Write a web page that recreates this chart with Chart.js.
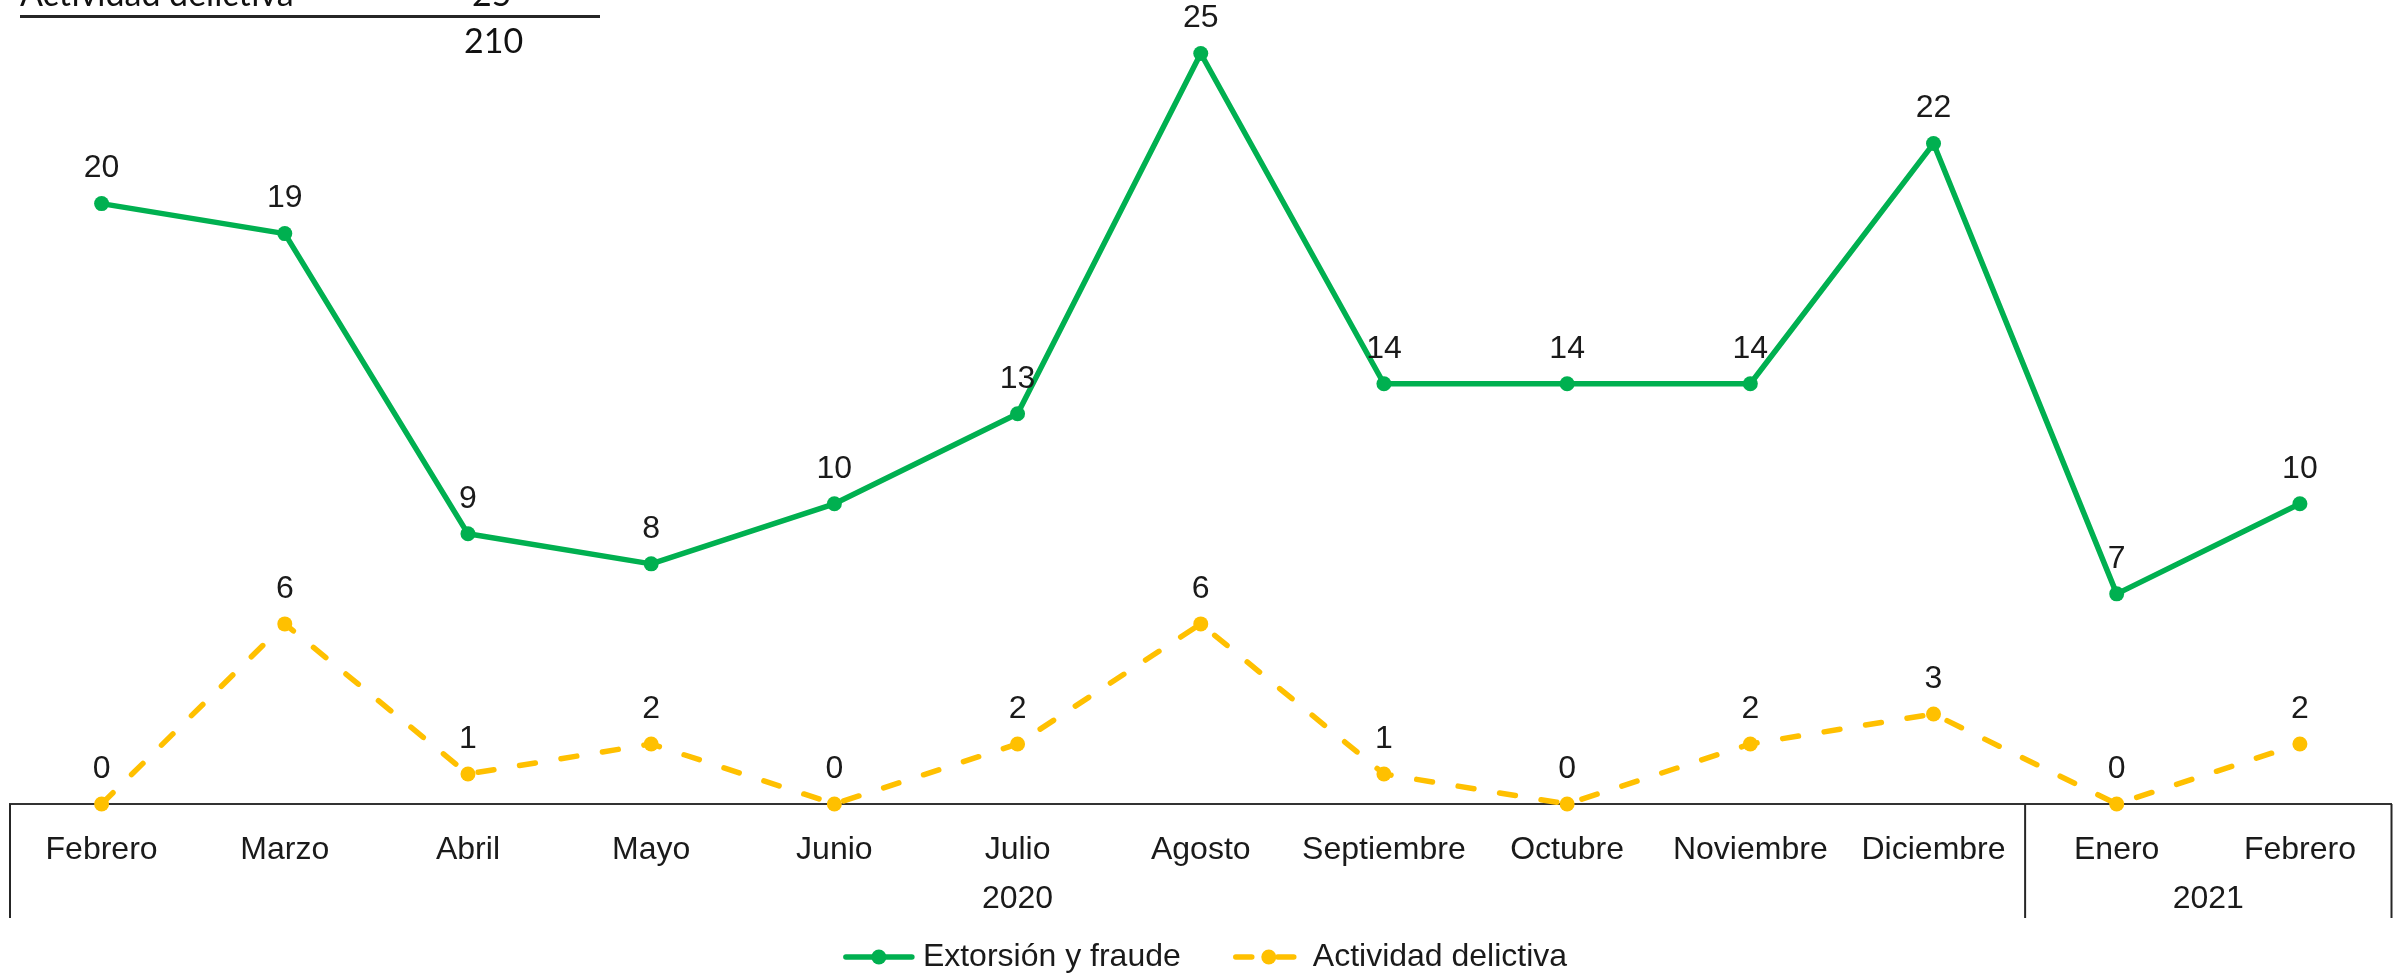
<!DOCTYPE html>
<html lang="es">
<head>
    <meta charset="UTF-8">
    <title>Extorsión y fraude / Actividad delictiva</title>
    <style>
        * {
            margin: 0;
            padding: 0;
            box-sizing: border-box;
        }

        body {
            background-color: #fff;
            width: 2399px;
            height: 974px;
            overflow: hidden;
            position: relative;
        }

        #chart {
            position: absolute;
            left: 0;
            top: 0;
        }

        /* restos de la tabla que queda cortada arriba */
        .tabla {
            position: absolute;
            font-family: Lato, "Open Sans", sans-serif;
            font-size: 34px;
            line-height: 34px;
            color: #111;
            white-space: nowrap;
        }

        .regla {
            position: absolute;
            left: 20px;
            top: 15px;
            width: 580px;
            height: 2.5px;
            background-color: #262626;
        }
    </style>
</head>
<body>
    <canvas id="chart" width="2399" height="974"></canvas>
    <div class="tabla" style="left:20px; top:-24px;">Actividad delictiva</div>
    <div class="tabla" style="left:472px; top:-24px;">25</div>
    <div class="regla"></div>
    <div class="tabla" style="left:464px; top:23px;">210</div>

    <script src="https://cdn.jsdelivr.net/npm/chart.js"></script>
    <script>
const months = ['Febrero', 'Marzo', 'Abril', 'Mayo', 'Junio', 'Julio', 'Agosto', 'Septiembre', 'Octubre', 'Noviembre', 'Diciembre', 'Enero', 'Febrero'];
const extorsion = [20, 19, 9, 8, 10, 13, 25, 14, 14, 14, 22, 7, 10];
const actividad = [0, 6, 1, 2, 0, 2, 6, 1, 0, 2, 3, 0, 2];
const years = ['2020', '2021'];
const yearSpans = [11, 2];

const FONT = '"Liberation Sans", Arial, sans-serif';
const TEXT = '#1a1a1a';

// numeros encima de cada punto
const valueLabels = {
    id: 'valueLabels',
    afterDatasetsDraw(chart) {
        const ctx = chart.ctx;
        ctx.save();
        ctx.font = '32px ' + FONT;
        ctx.fillStyle = TEXT;
        ctx.textAlign = 'center';
        ctx.textBaseline = 'middle';
        chart.data.datasets.forEach((ds, i) => {
            chart.getDatasetMeta(i).data.forEach((pt, j) => {
                ctx.fillText(ds.data[j], pt.x, pt.y - 35);
            });
        });
        ctx.restore();
    }
};

// segunda fila del eje: años y separadores
const yearAxis = {
    id: 'yearAxis',
    afterDraw(chart) {
        const x = chart.scales.x;
        const ctx = chart.ctx;
        const top = x.top;
        const bottom = x.top + 114;
        ctx.save();
        ctx.strokeStyle = '#262626';
        ctx.lineWidth = 2;
        ctx.font = '32px ' + FONT;
        ctx.fillStyle = TEXT;
        ctx.textAlign = 'center';
        ctx.textBaseline = 'middle';
        let start = 0;
        const edges = [x.getPixelForValue(-0.5)];
        years.forEach((y, k) => {
            const end = start + yearSpans[k];
            const l = x.getPixelForValue(start - 0.5);
            const r = x.getPixelForValue(end - 0.5);
            edges.push(r);
            ctx.fillText(y, (l + r) / 2, top + 95);
            start = end;
        });
        edges.forEach(px => {
            ctx.beginPath();
            ctx.moveTo(px, top);
            ctx.lineTo(px, bottom);
            ctx.stroke();
        });
        ctx.restore();
    }
};

// leyenda con linea y punto
const lineLegend = {
    id: 'lineLegend',
    afterDraw(chart) {
        const ctx = chart.ctx;
        ctx.save();
        ctx.font = '32px ' + FONT;
        const sample = 70, gapText = 9, gapItem = 53;
        const items = chart.data.datasets.map(ds => ({ ds: ds, w: ctx.measureText(ds.label).width }));
        const total = items.reduce((s, it) => s + sample + gapText + it.w, 0) + gapItem * (items.length - 1);
        let x = chart.width / 2 + 6 - total / 2;
        const y = 957;
        items.forEach(it => {
            const ds = it.ds;
            ctx.strokeStyle = ds.borderColor;
            ctx.lineWidth = ds.borderWidth;
            ctx.lineCap = 'round';
            ctx.setLineDash(ds.borderDash || []);
            ctx.beginPath();
            ctx.moveTo(x + 2, y);
            ctx.lineTo(x + sample - 2, y);
            ctx.stroke();
            ctx.setLineDash([]);
            ctx.fillStyle = ds.pointBackgroundColor;
            ctx.beginPath();
            ctx.arc(x + sample / 2, y, 7.5, 0, Math.PI * 2);
            ctx.fill();
            ctx.fillStyle = TEXT;
            ctx.textAlign = 'left';
            ctx.textBaseline = 'middle';
            ctx.fillText(ds.label, x + sample + gapText, y);
            x += sample + gapText + it.w + gapItem;
        });
        ctx.restore();
    }
};

new Chart(document.getElementById('chart').getContext('2d'), {
    type: 'line',
    data: {
        labels: months,
        datasets: [{
            label: 'Extorsión y fraude',
            data: extorsion,
            borderColor: '#00B050',
            backgroundColor: '#00B050',
            pointBackgroundColor: '#00B050',
            pointBorderColor: '#00B050',
            borderWidth: 5.5,
            pointRadius: 7.5,
            pointBorderWidth: 0,
            tension: 0,
            borderJoinStyle: 'round',
            clip: false
        }, {
            label: 'Actividad delictiva',
            data: actividad,
            borderColor: '#FFC000',
            backgroundColor: '#FFC000',
            pointBackgroundColor: '#FFC000',
            pointBorderColor: '#FFC000',
            borderWidth: 5.5,
            borderDash: [16, 26],
            borderCapStyle: 'round',
            pointRadius: 7.5,
            pointBorderWidth: 0,
            tension: 0,
            clip: false
        }]
    },
    options: {
        responsive: false,
        animation: false,
        layout: {
            padding: { left: 10, right: 6.5, top: 53.5, bottom: 50 }
        },
        plugins: {
            legend: { display: false },
            tooltip: { enabled: false }
        },
        scales: {
            x: {
                offset: true,
                grid: { display: false },
                border: { display: true, color: '#333', width: 2 },
                ticks: {
                    color: TEXT,
                    font: { family: FONT, size: 32, lineHeight: 1.2 },
                    padding: 19,
                    maxRotation: 0,
                    autoSkip: false
                },
                afterFit: function(scale) {
                    scale.height = 120;
                }
            },
            y: {
                display: false,
                min: 0,
                max: 25
            }
        }
    },
    plugins: [valueLabels, yearAxis, lineLegend]
});
    </script>
</body>
</html>
